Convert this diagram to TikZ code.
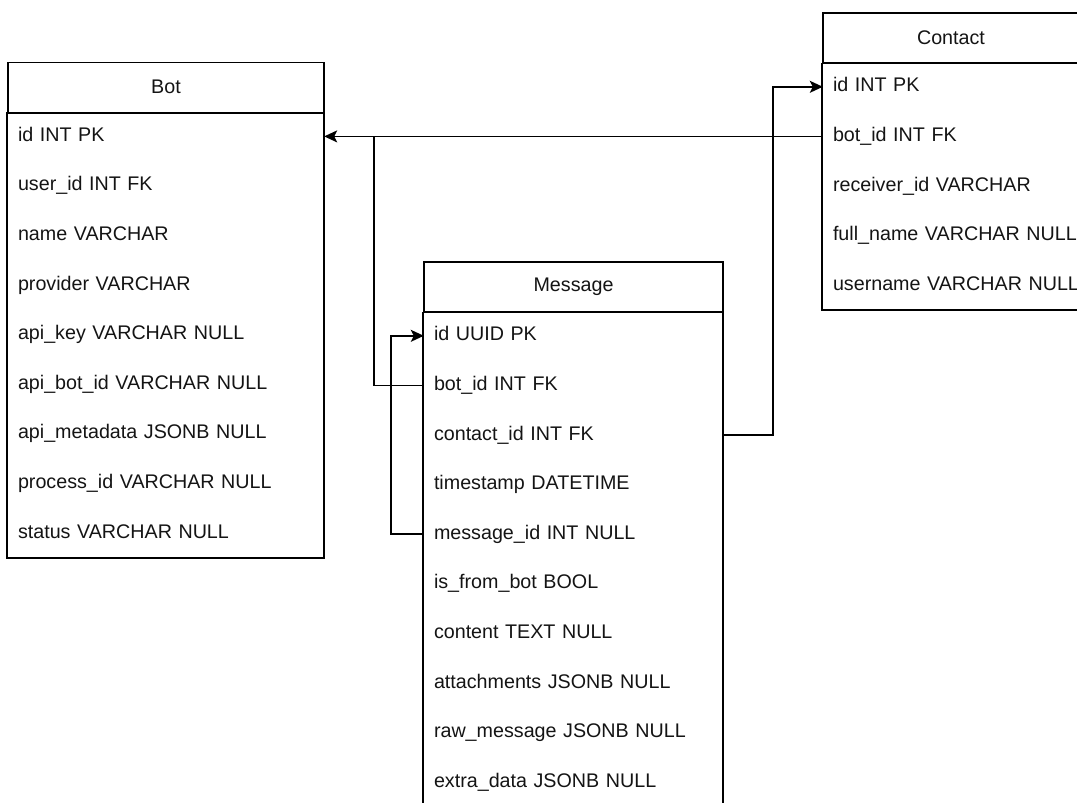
\documentclass[tikz,border=0pt]{standalone}
\usepackage{fontspec}
\setmainfont{Liberation Sans}
\usetikzlibrary{arrows.meta,calc}

\tikzset{
  tblfont/.style={font=\fontsize{19.7}{23}\selectfont, text=black!92},
  hdr/.style={tblfont, draw, line width=1.6pt, minimum height=50pt, inner sep=0pt, anchor=north},
  row/.style={tblfont, minimum height=49.6pt, inner xsep=10pt, inner ysep=0pt,
    text height=14pt, text depth=4pt, align=left},
  frame/.style={draw, line width=1.6pt},
  link/.style={line width=1.6pt},
  fk/.style={link, -{Stealth[length=13pt, width=12pt, inset=3pt]}},
}

\begin{document}
\begin{tikzpicture}[x=1pt, y=-1pt]
\useasboundingbox (0,0) rectangle (1077,803);
\clip (0,0) rectangle (1077,803);

% ---- Bot ----
\node[hdr, minimum width=316pt] (bot) at (166,61.5) {Bot};
\foreach \k/\t [count=\i] in {
  id/id INT PK, uid/user\_id INT FK, name/name VARCHAR, prov/provider VARCHAR,
  key/api\_key VARCHAR NULL, abid/api\_bot\_id VARCHAR NULL,
  meta/api\_metadata JSONB NULL, pid/process\_id VARCHAR NULL, status/status VARCHAR NULL}
  \node[row, text width=296pt] (bot-\k) at (166,{111.5+49.6*\i-24.8}) {\mbox{\t}};
\draw[frame] (bot.south west) rectangle (bot-status.south east);

% ---- Message ----
\node[hdr, minimum width=299pt] (msg) at (573.5,261) {Message};
\foreach \k/\t [count=\i] in {
  id/id UUID PK, bot/bot\_id INT FK, cid/contact\_id INT FK, ts/timestamp DATETIME,
  mid/message\_id INT NULL, fromb/is\_from\_bot BOOL, cont/content TEXT NULL,
  att/attachments JSONB NULL, raw/raw\_message JSONB NULL, extra/extra\_data JSONB NULL}
  \node[row, text width=279pt] (msg-\k) at (573.5,{311+49.6*\i-24.8}) {\mbox{\t}};
\draw[frame] (msg.south west) rectangle (msg-extra.south east);

% ---- Contact ----
\node[hdr, minimum width=256pt] (cont) at (951,12) {Contact};
\foreach \k/\t [count=\i] in {
  id/id INT PK, bot/bot\_id INT FK, rid/receiver\_id VARCHAR,
  full/full\_name VARCHAR NULL, user/username VARCHAR NULL}
  \node[row, text width=236pt] (cont-\k) at (951,{62+49.6*\i-24.8}) {\mbox{\t}};
\draw[frame] (cont.south west) rectangle (cont-user.south east);

% ---- foreign keys ----
\coordinate (join) at ($(msg-bot.west |- cont-bot.west)+(-50,0)$);
\draw[fk] (cont-bot.west) -- (cont-bot.west -| bot-id.east);
\draw[link] (msg-bot.west) -| (join);
\draw[fk] (msg-mid.west) -- ++(-33,0) |- (msg-id.west);
\draw[fk] (msg-cid.east) -- ++(50,0) |- (cont-id.west);
\end{tikzpicture}
\end{document}
